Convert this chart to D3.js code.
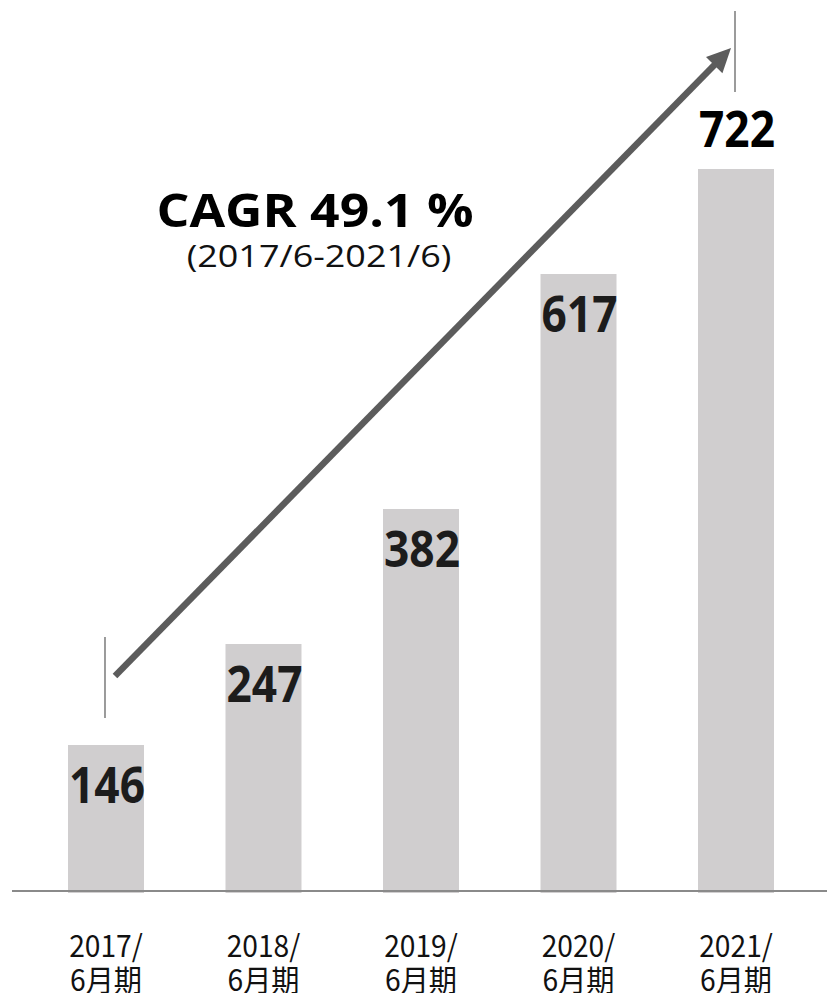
<!DOCTYPE html>
<html>
<head>
<meta charset="utf-8">
<script src="https://cdn.jsdelivr.net/npm/d3@7"></script>
<style>
  html, body { margin: 0; padding: 0; background: #fff; }
  svg { display: block; }
</style>
</head>
<body>
<svg id="chart" width="827" height="993"></svg>
<script>
// Fiscal periods (June year-end) and their values
const periods = ["2017/", "2018/", "2019/", "2020/", "2021/"];
const periodSuffix = ["6月期", "6月期", "6月期", "6月期", "6月期"];
const values = [146, 247, 382, 617, 722];
const cagrTitle = "CAGR 49.1 %";
const cagrRange = "(2017/6-2021/6)";

const W = 827, H = 993;
const baseY = 891;

const svg = d3.select("#chart");

const x = d3.scaleBand()
  .domain(periods)
  .range([68, 774])
  .paddingInner(0.5175)
  .paddingOuter(0);

const y = d3.scaleLinear()
  .domain([0, 722])
  .range([baseY, 169]);

const cx = p => x(p) + x.bandwidth() / 2;

// bars
svg.append("g").selectAll("rect")
  .data(periods)
  .join("rect")
  .attr("x", d => x(d))
  .attr("width", x.bandwidth())
  .attr("y", (d, i) => y(values[i]))
  .attr("height", (d, i) => baseY + 2 - y(values[i]))
  .attr("fill", "#d0cecf");

// baseline
svg.append("line")
  .attr("x1", 12).attr("x2", W)
  .attr("y1", baseY).attr("y2", baseY)
  .attr("stroke", "#8a8a8a")
  .attr("stroke-width", 2);

// value labels (inside bar top, last one above the bar)
const valG = svg.append("g");
periods.forEach((p, i) => {
  const last = i === periods.length - 1;
  const ty = last ? y(values[i]) - 22 : y(values[i]) + 58;
  valG.append("text")
    .attr("transform", `translate(${cx(p) + 1},${ty}) scale(0.885,1)`)
    .attr("text-anchor", "middle")
    .attr("font-family", "'Open Sans', 'Noto Sans', sans-serif")
    .attr("font-weight", 700)
    .attr("font-size", 50)
    .attr("fill", last ? "#000" : "#1c1c1c")
    .text(values[i]);
});

// category labels, two lines
const axG = svg.append("g");
periods.forEach((p, i) => {
  const t = axG.append("g")
    .attr("transform", `translate(${cx(p)},0)`);
  [[periods[i], 957], [periodSuffix[i], 991]].forEach(([s, by]) => {
    t.append("text")
      .attr("transform", `translate(0,${by}) scale(0.94,1)`)
      .attr("text-anchor", "middle")
      .attr("font-family", "'Noto Sans CJK JP', 'Noto Sans', sans-serif")
      .attr("font-size", 30)
      .attr("fill", "#111")
      .text(s);
  });
});

// growth arrow between first and last period
const first = periods[0], lastP = periods[periods.length - 1];
const x0 = cx(first) + 9, y0 = y(values[0]) - 69;
const x1 = cx(lastP) - 5, y1 = y(values[values.length - 1]) - 121;
const dx = x1 - x0, dy = y1 - y0, len = Math.hypot(dx, dy);
const ux = dx / len, uy = dy / len;
const headLen = 24, headHalf = 11.5;
const bx = x1 - ux * headLen, by = y1 - uy * headLen;

svg.append("line")
  .attr("x1", x0).attr("y1", y0)
  .attr("x2", bx + ux * 2).attr("y2", by + uy * 2)
  .attr("stroke", "#5c5c5c")
  .attr("stroke-width", 6.5);

svg.append("path")
  .attr("d", d3.line()([
    [x1, y1],
    [bx - uy * headHalf, by + ux * headHalf],
    [bx + uy * headHalf, by - ux * headHalf]
  ]) + "Z")
  .attr("fill", "#5c5c5c");

// thin reference ticks at both ends
[[first, y(values[0]) - 108, y(values[0]) - 27],
 [lastP, y(values[values.length - 1]) - 158, y(values[values.length - 1]) - 77]]
  .forEach(([p, ya, yb]) => {
    svg.append("line")
      .attr("x1", cx(p) - 1).attr("x2", cx(p) - 1)
      .attr("y1", ya).attr("y2", yb)
      .attr("stroke", "#7a7a7a")
      .attr("stroke-width", 1.5);
  });

// CAGR annotation
svg.append("text")
  .attr("transform", "translate(315,227) scale(1.1,1)")
  .attr("text-anchor", "middle")
  .attr("font-family", "'Open Sans', 'Noto Sans', sans-serif")
  .attr("font-weight", 700)
  .attr("font-size", 47)
  .attr("fill", "#000")
  .text(cagrTitle);

svg.append("text")
  .attr("transform", "translate(319,267) scale(1.16,1)")
  .attr("text-anchor", "middle")
  .attr("font-family", "'Open Sans', 'Noto Sans', sans-serif")
  .attr("font-size", 31)
  .attr("fill", "#111")
  .text(cagrRange);
</script>
</body>
</html>
